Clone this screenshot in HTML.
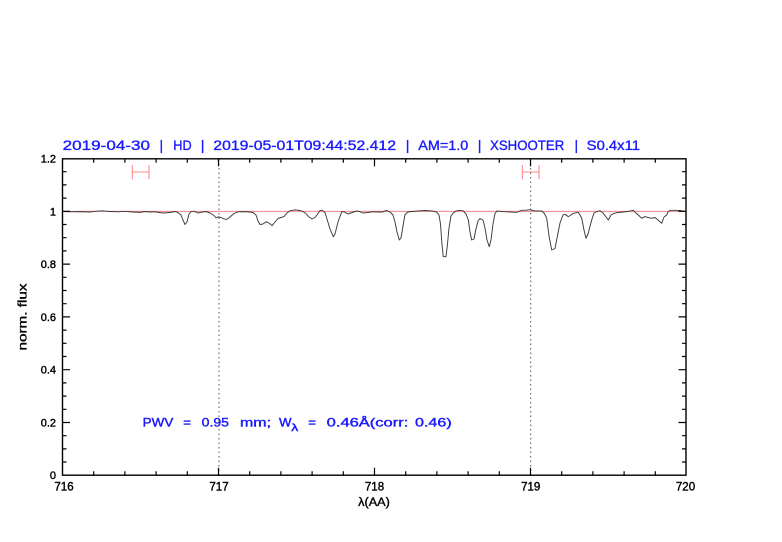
<!DOCTYPE html>
<html>
<head>
<meta charset="utf-8">
<style>
html,body{margin:0;padding:0;background:#fff;}
svg{display:block;}
text{font-family:"Liberation Sans",sans-serif;}
</style>
</head>
<body>
<svg width="782" height="542" viewBox="0 0 782 542" xmlns="http://www.w3.org/2000/svg">
<rect width="782" height="542" fill="#fff"/>

<!-- title -->
<g fill="#1a1aff" font-size="14" stroke="#1a1aff" stroke-width="0.35">
<text x="62.7" y="150" textLength="87.3" lengthAdjust="spacingAndGlyphs">2019-04-30</text>
<text x="159.5" y="150">|</text>
<text x="173.3" y="150" textLength="18.4" lengthAdjust="spacingAndGlyphs">HD</text>
<text x="200.8" y="150">|</text>
<text x="213.3" y="150" textLength="182.7" lengthAdjust="spacingAndGlyphs">2019-05-01T09:44:52.412</text>
<text x="405.8" y="150">|</text>
<text x="418.3" y="150" textLength="50" lengthAdjust="spacingAndGlyphs">AM=1.0</text>
<text x="477.8" y="150">|</text>
<text x="490" y="150" textLength="74.3" lengthAdjust="spacingAndGlyphs">XSHOOTER</text>
<text x="574.5" y="150">|</text>
<text x="586.7" y="150" textLength="53.3" lengthAdjust="spacingAndGlyphs">S0.4x11</text>
</g>

<!-- dotted verticals -->
<g stroke="#555" stroke-width="1" stroke-dasharray="1.5,3">
<line x1="219" y1="159" x2="219" y2="475"/>
<line x1="530.7" y1="159" x2="530.7" y2="475"/>
</g>

<!-- continuum line -->
<line x1="62.5" y1="211.3" x2="686" y2="211.3" stroke="#f07070" stroke-width="0.9"/>

<!-- error bars -->
<g stroke="#ff8a8a" stroke-width="1.1" fill="none">
<line x1="132.3" y1="172" x2="149" y2="172"/>
<line x1="132.3" y1="165" x2="132.3" y2="179.3"/>
<line x1="149" y1="165" x2="149" y2="179.3"/>
<line x1="522.3" y1="172" x2="539" y2="172"/>
<line x1="522.3" y1="165" x2="522.3" y2="179.3"/>
<line x1="539" y1="165" x2="539" y2="179.3"/>
</g>

<!-- spectrum -->
<polyline fill="none" stroke="#3a3a3a" stroke-width="0.95" stroke-linejoin="round" points="
62.5,211.5 70,211.8 80,211.6 90,212 95,211.3 102,210.8 110,211.5 118,211.8 125,211.3 133,212 140,212.4 145,211.6 150,212 155,211.8 160,212.6 165,213 170,212.4 175,211.6 178,212.6 181,215 183,220 185,224.5 187,222 189,214 191,211.7 194,211.3 198,213 202,212.2 206,211.5 210,213 214,215.5 216,218 218,216.8 221,217.5 224,219 227,219.3 230,217 234,213.5 238,211.8 244,211.6 250,212 253,212.5 256,215 258,221 260,224.5 263,224 266,221.7 269,223 272,225.7 275,222 278,218.5 281,217.5 284,216.6 287,213 290,210.7 295,209.8 300,210.5 303,211.6 306,213.5 309,217 312,219 315,217.5 317,215 320,210.5 322,210.3 325,212.5 327,219 330,229 333.3,236.7 335,234 338,222 341.7,211.7 344,211.8 348,214 352,212.5 357,211 360,211.7 363,213 368,212.5 372,211.8 378,212 382,212 386.7,210.5 390,212 393,215 395,222 397,232 399.3,240 401,238 403,226 405,214.5 408,212 412,211.5 418,211 425,210.5 432,211 436.7,212.2 439,215 440.5,224 442,245 443.3,256.7 446,256.7 447.5,244 449,228 451,216 453.3,213 456,211 460,210.3 463.3,211 466,214 468.3,220 470,232 471.7,240 474,239 476,229 478,221 480,218.5 483,220 485,228 487,240 489.3,246.7 491,240 493,224 495,213.5 497,211 503,211.7 510,212 516.7,212.3 521.7,210.3 526,210.2 530,209.7 535,211 541.7,211 544,213 546.7,218 549,236 551.7,250 555,248.5 557,238 560,223 563,215 565,214.3 568.3,216.6 571,215 573.3,213.3 578.3,212.3 581.7,218 584,230 586,238.3 588,234 591.7,220 594,213 597,211.5 600,210.7 603.3,213.3 606,217 608.3,220 611,215 614,213.3 618,212.5 623,212 628,211.5 633.3,210.3 636,213 638.3,215 641.7,218.3 645,216.6 648,217.5 651.7,218.3 655,217.5 658,220 661.7,223.3 664,217 666.7,215 668,212 670,210.3 675,210.3 680,210.5 685,211.5"/>

<!-- axes box -->
<rect x="62.5" y="158.8" width="623.5" height="316.4" fill="none" stroke="#000" stroke-width="1.4"/>

<!-- x ticks -->
<g stroke="#000" stroke-width="1.2">
<path d="
M93.7,475.2v-4 M124.9,475.2v-4 M156.1,475.2v-4 M187.3,475.2v-4 M218.5,475.2v-7.5
M249.7,475.2v-4 M280.9,475.2v-4 M312.1,475.2v-4 M343.3,475.2v-4 M374.5,475.2v-7.5
M405.7,475.2v-4 M436.9,475.2v-4 M468.1,475.2v-4 M499.3,475.2v-4 M530.5,475.2v-7.5
M561.7,475.2v-4 M592.9,475.2v-4 M624.1,475.2v-4 M655.3,475.2v-4
M93.7,158.8v4 M124.9,158.8v4 M156.1,158.8v4 M187.3,158.8v4 M218.5,158.8v7.5
M249.7,158.8v4 M280.9,158.8v4 M312.1,158.8v4 M343.3,158.8v4 M374.5,158.8v7.5
M405.7,158.8v4 M436.9,158.8v4 M468.1,158.8v4 M499.3,158.8v4 M530.5,158.8v7.5
M561.7,158.8v4 M592.9,158.8v4 M624.1,158.8v4 M655.3,158.8v4
"/>
<!-- y ticks -->
<path d="
M62.5,462h4 M62.5,448.9h4 M62.5,435.7h4 M62.5,422.5h7.5
M62.5,409.3h4 M62.5,396.1h4 M62.5,382.9h4 M62.5,369.7h7.5
M62.5,356.5h4 M62.5,343.3h4 M62.5,330.1h4 M62.5,316.9h7.5
M62.5,303.7h4 M62.5,290.5h4 M62.5,277.3h4 M62.5,264.1h7.5
M62.5,250.9h4 M62.5,237.7h4 M62.5,224.5h4 M62.5,211.3h7.5
M62.5,198.1h4 M62.5,184.9h4 M62.5,171.7h4
M686,462h-4 M686,448.9h-4 M686,435.7h-4 M686,422.5h-7.5
M686,409.3h-4 M686,396.1h-4 M686,382.9h-4 M686,369.7h-7.5
M686,356.5h-4 M686,343.3h-4 M686,330.1h-4 M686,316.9h-7.5
M686,303.7h-4 M686,290.5h-4 M686,277.3h-4 M686,264.1h-7.5
M686,250.9h-4 M686,237.7h-4 M686,224.5h-4 M686,211.3h-7.5
M686,198.1h-4 M686,184.9h-4 M686,171.7h-4
"/>
</g>

<!-- y labels -->
<g font-size="11" fill="#000" stroke="#000" stroke-width="0.4" text-anchor="end">
<text x="56" y="479">0</text>
<text x="56" y="426.5">0.2</text>
<text x="56" y="373.7">0.4</text>
<text x="56" y="320.9">0.6</text>
<text x="56" y="268.1">0.8</text>
<text x="56" y="215.3">1</text>
<text x="56" y="162.5">1.2</text>
</g>

<!-- x labels -->
<g font-size="11.5" fill="#000" stroke="#000" stroke-width="0.4" text-anchor="middle">
<text x="64" y="490.7">716</text>
<text x="219" y="490.7">717</text>
<text x="374.5" y="490.7">718</text>
<text x="530.7" y="490.7">719</text>
<text x="685.5" y="490.7">720</text>
</g>

<!-- axis titles -->
<text x="374" y="506" font-size="11.5" text-anchor="middle" fill="#000" stroke="#000" stroke-width="0.35" textLength="31.7" lengthAdjust="spacingAndGlyphs">λ(AA)</text>
<text transform="translate(26.3,317) rotate(-90)" font-size="11.5" text-anchor="middle" fill="#000" stroke="#000" stroke-width="0.35" textLength="67" lengthAdjust="spacingAndGlyphs">norm. flux</text>

<!-- annotation -->
<g fill="#1a1aff" stroke="#1a1aff" stroke-width="0.4" font-size="12">
<text x="142.7" y="426.7" textLength="30.6" lengthAdjust="spacingAndGlyphs">PWV</text>
<text x="183.3" y="426.7" textLength="7.7" lengthAdjust="spacingAndGlyphs">=</text>
<text x="201.7" y="426.7" textLength="27.3" lengthAdjust="spacingAndGlyphs">0.95</text>
<text x="240" y="426.7" textLength="31" lengthAdjust="spacingAndGlyphs">mm;</text>
<text x="279" y="426.7" textLength="12.5" lengthAdjust="spacingAndGlyphs">W</text>
<text x="291.3" y="430.8" font-size="10" textLength="7" lengthAdjust="spacingAndGlyphs">λ</text>
<text x="308.3" y="426.7" textLength="7.7" lengthAdjust="spacingAndGlyphs">=</text>
<text x="326.7" y="426.7" textLength="81.6" lengthAdjust="spacingAndGlyphs">0.46Å(corr:</text>
<text x="415" y="426.7" textLength="36.7" lengthAdjust="spacingAndGlyphs">0.46)</text>
</g>
</svg>
</body>
</html>
